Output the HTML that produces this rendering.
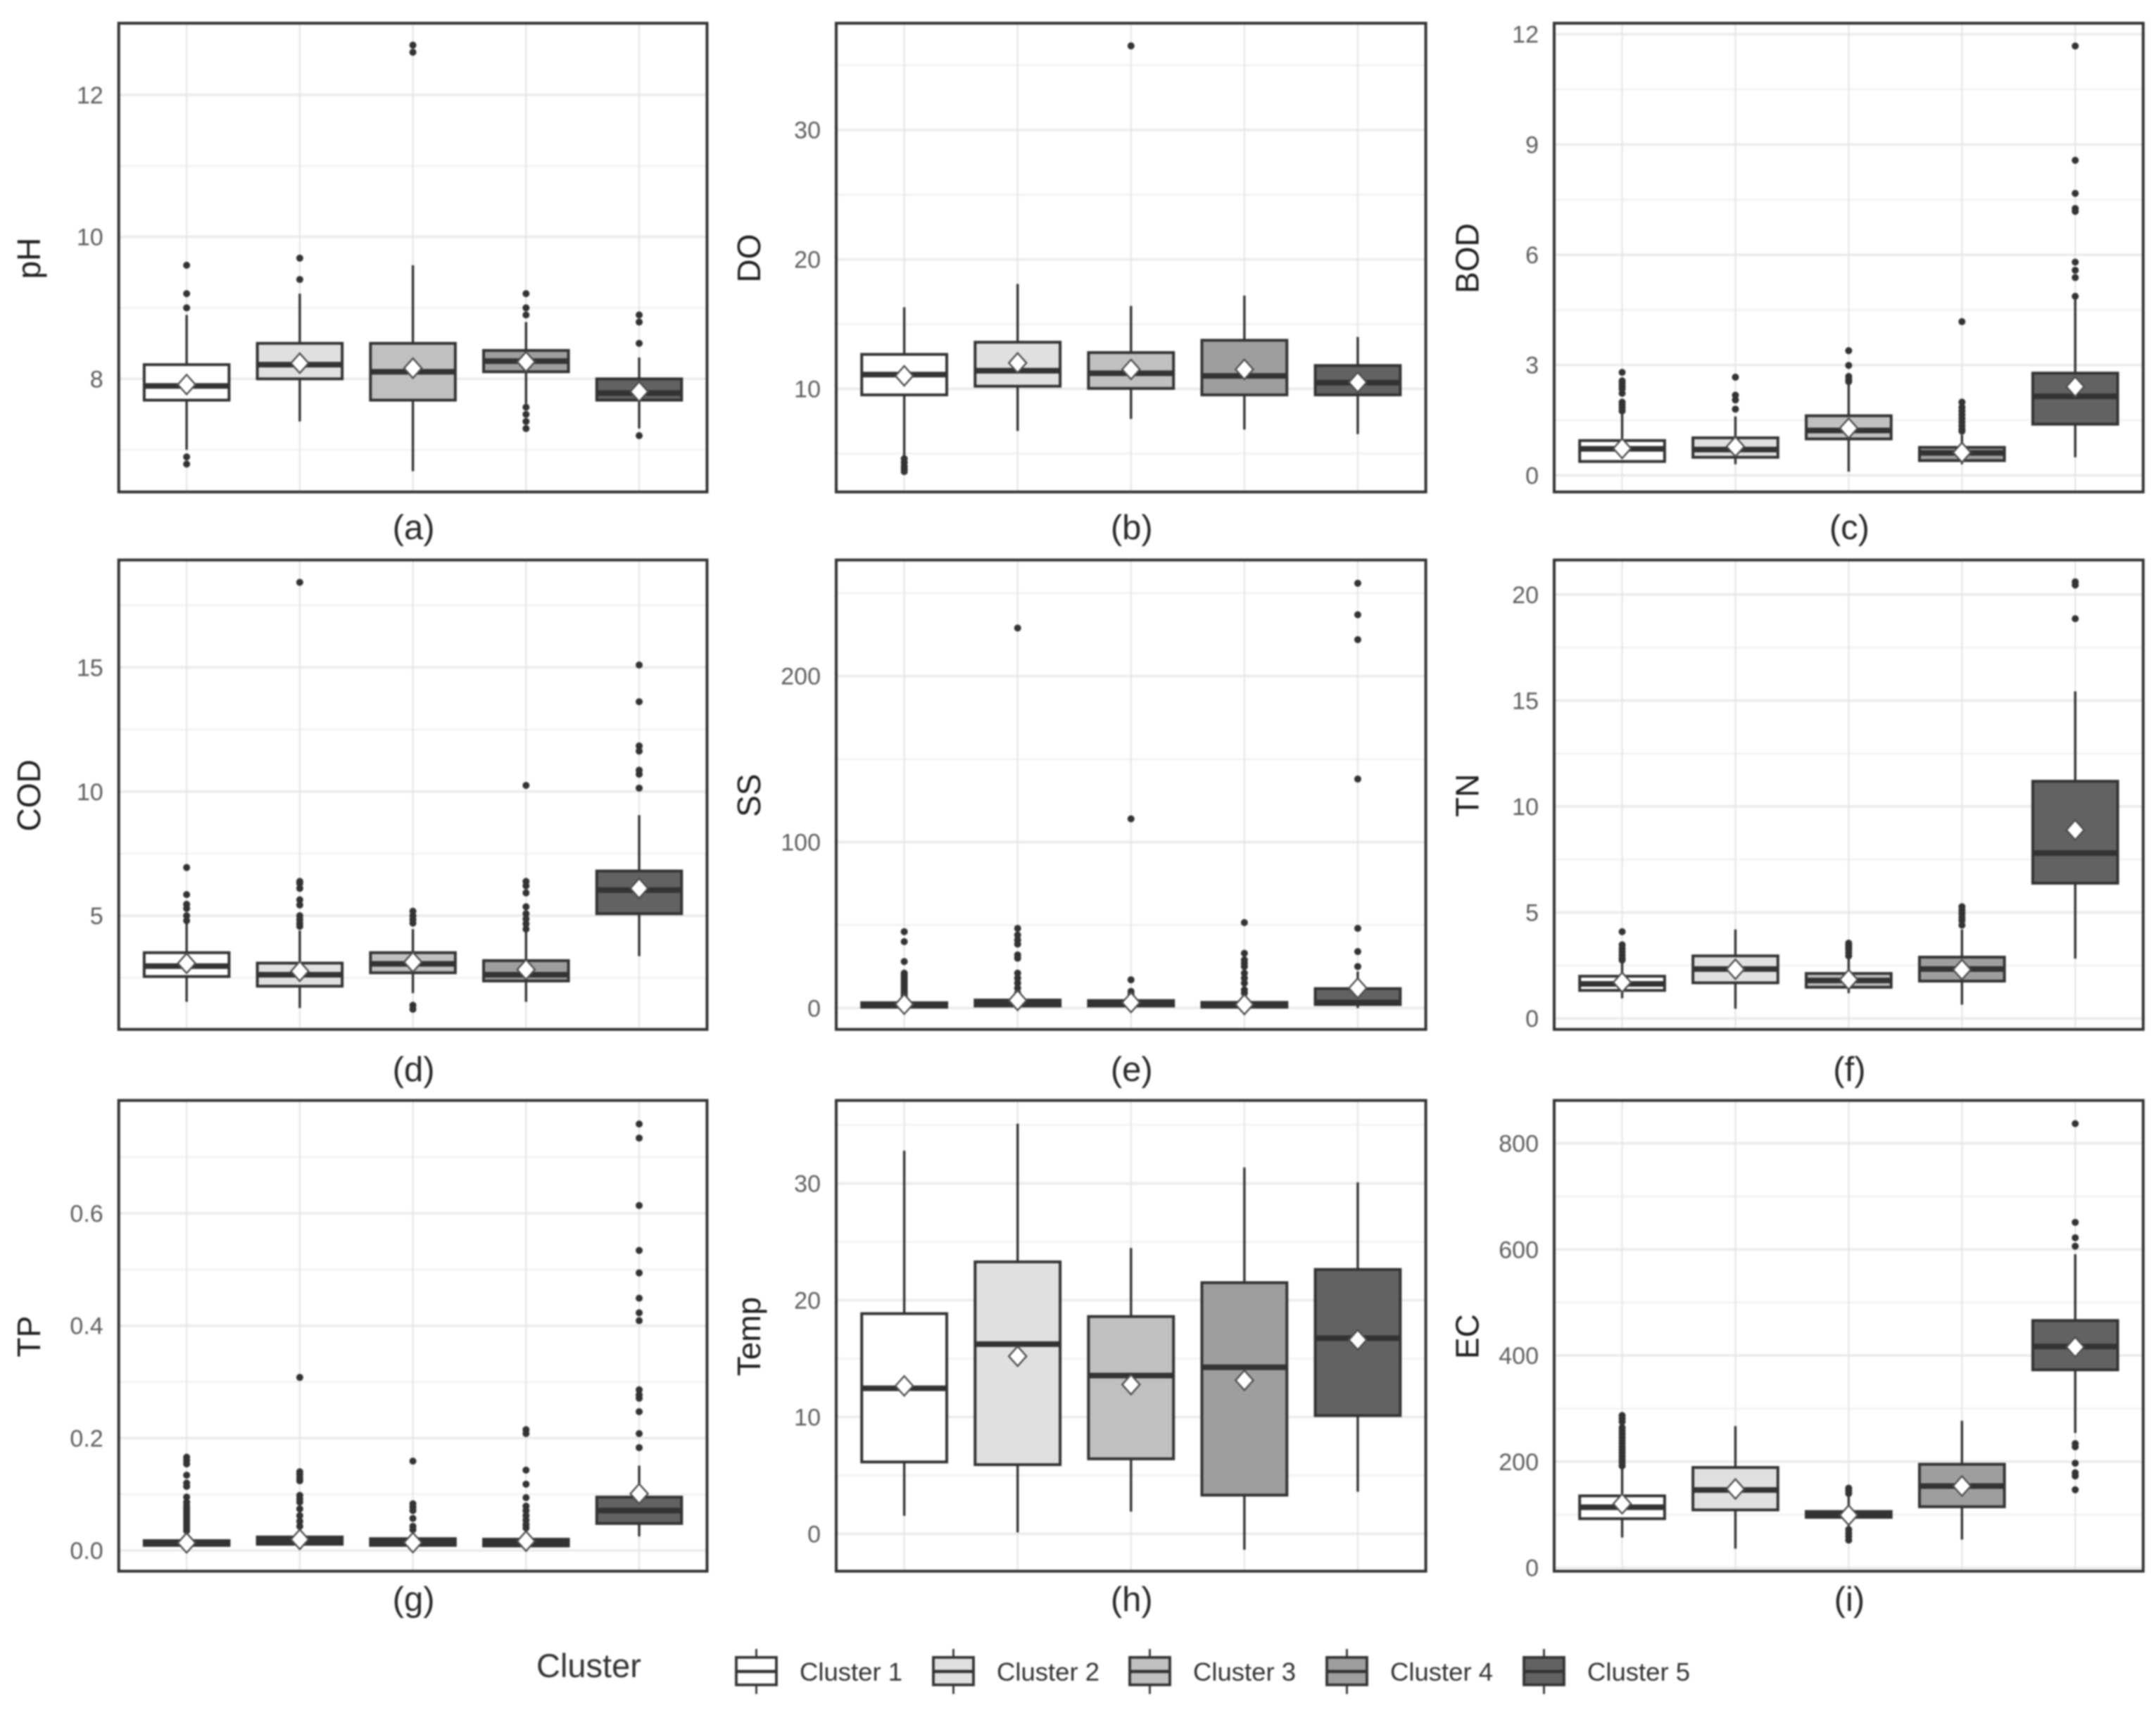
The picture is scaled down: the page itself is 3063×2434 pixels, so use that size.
<!DOCTYPE html>
<html lang="en">
<head>
<meta charset="utf-8">
<title>Water quality parameters by cluster</title>
<style>
html,body{margin:0;padding:0;background:#fff;width:3063px;height:2434px;overflow:hidden}
svg{display:block;filter:blur(1px);font-family:"Liberation Sans",sans-serif}
</style>
</head>
<body>
<svg id="chart" xmlns="http://www.w3.org/2000/svg" width="3063" height="2434" viewBox="0 0 3063 2434"></svg>
<script>
const categories = ['Cluster 1','Cluster 2','Cluster 3','Cluster 4','Cluster 5'];

// (a) pH
const phDomain = [6.407, 13.009];
const phTicks = [8, 10, 12];
const phTickLabels = ['8','10','12'];
const phQ1 = [7.7, 8.0, 7.7, 8.1, 7.7];
const phMedian = [7.9, 8.2, 8.1, 8.25, 7.8];
const phQ3 = [8.2, 8.5, 8.5, 8.4, 8.0];
const phMean = [7.92, 8.22, 8.15, 8.24, 7.82];
const phLow = [7.0, 7.4, 6.7, 7.65, 7.3];
const phHigh = [8.9, 9.2, 9.6, 8.8, 8.3];
const phOutliers = [[9.6,9.2,9.0,6.9,6.8],[9.7,9.4],[12.7,12.6],[9.2,9.0,8.9,7.6,7.5,7.4,7.3],[8.9,8.8,8.5,7.2]];

// (b) DO
const doDomain = [2.03, 38.25];
const doTicks = [10, 20, 30];
const doTickLabels = ['10','20','30'];
const doQ1 = [9.53, 10.2, 10.03, 9.53, 9.53];
const doMedian = [11.1, 11.4, 11.2, 11.0, 10.47];
const doQ3 = [12.66, 13.6, 12.8, 13.75, 11.8];
const doMean = [11.0, 12.0, 11.5, 11.5, 10.5];
const doLow = [4.85, 6.74, 7.67, 6.85, 6.5];
const doHigh = [16.3, 18.1, 16.4, 17.2, 14.0];
const doOutliers = [[4.6,4.3,4.0,3.8,3.6],[],[36.5],[],[]];

// (c) BOD
const bodDomain = [-0.453, 12.3];
const bodTicks = [0, 3, 6, 9, 12];
const bodTickLabels = ['0','3','6','9','12'];
const bodQ1 = [0.376, 0.49, 0.99, 0.40, 1.39];
const bodMedian = [0.72, 0.70, 1.22, 0.61, 2.15];
const bodQ3 = [0.945, 1.02, 1.62, 0.76, 2.78];
const bodMean = [0.73, 0.78, 1.28, 0.62, 2.41];
const bodLow = [0.35, 0.3, 0.1, 0.3, 0.49];
const bodHigh = [1.7, 1.6, 2.5, 1.1, 4.78];
const bodOutliers = [[2.8,2.57,2.5,2.42,2.35,2.23,1.99,1.92,1.84,1.75],[2.67,2.18,2.05,1.8],[3.39,2.99,2.69,2.6,2.55],[4.18,1.99,1.85,1.75,1.65,1.55,1.45,1.35,1.25,1.2],[11.68,8.57,7.67,7.26,7.18,5.8,5.58,5.38,4.87]];

// (d) COD
const codDomain = [0.418, 19.33];
const codTicks = [5, 10, 15];
const codTickLabels = ['5','10','15'];
const codQ1 = [2.55, 2.16, 2.7, 2.37, 5.08];
const codMedian = [2.97, 2.62, 3.06, 2.62, 6.03];
const codQ3 = [3.51, 3.09, 3.51, 3.19, 6.8];
const codMean = [3.08, 2.76, 3.13, 2.83, 6.1];
const codLow = [1.53, 1.28, 1.88, 1.53, 3.37];
const codHigh = [4.67, 4.4, 4.46, 4.4, 9.05];
const codOutliers = [[6.94,5.85,5.46,5.29,5.0,4.8],[18.43,6.38,6.3,6.1,5.64,5.43,5.0,4.85,4.7,4.57],[5.18,5.0,4.85,4.7,1.39,1.23],[10.25,6.38,6.2,5.92,5.36,5.08,4.87,4.67,4.46],[15.1,13.62,11.84,11.63,10.86,10.7,10.14]];

// (e) SS
const ssDomain = [-12.9, 270];
const ssTicks = [0, 100, 200];
const ssTickLabels = ['0','100','200'];
const ssQ1 = [0.5, 1.2, 1.2, 0.5, 2.1];
const ssMedian = [1.9, 2.9, 2.9, 1.9, 3.3];
const ssQ3 = [3.2, 4.8, 4.5, 3.4, 11.7];
const ssMean = [2.3, 4.6, 3.3, 2.1, 12];
const ssLow = [0, 0, 0, 0, 0];
const ssHigh = [6, 8, 7, 8, 22];
const ssOutliers = [[46,40,28,21,20,19,18,17,16,15,14,13,12,11,10,9,8,7],[229,48,44,41,38.5,32,30,21,18,15,12,9],[114,17,10,8.3],[51.5,33,29,27,25,21,18,15,11,9],[256,237,222,138,48,34,25]];

// (f) TN
const tnDomain = [-0.52, 21.63];
const tnTicks = [0, 5, 10, 15, 20];
const tnTickLabels = ['0','5','10','15','20'];
const tnQ1 = [1.32, 1.68, 1.47, 1.76, 6.38];
const tnMedian = [1.63, 2.33, 1.79, 2.33, 7.8];
const tnQ3 = [1.99, 2.95, 2.12, 2.89, 11.19];
const tnMean = [1.70, 2.32, 1.83, 2.3, 8.89];
const tnLow = [0.95, 0.46, 1.19, 0.65, 2.82];
const tnHigh = [2.66, 4.2, 2.8, 4.2, 15.43];
const tnOutliers = [[4.09,3.47,3.3,3.15,3.0,2.85,2.75],[],[3.55,3.45,3.35,3.25,3.1,2.95],[5.27,5.1,4.94,4.78,4.62,4.4],[20.6,20.45,18.86]];

// (g) TP
const tpDomain = [-0.0369, 0.801];
const tpTicks = [0, 0.2, 0.4, 0.6];
const tpTickLabels = ['0.0','0.2','0.4','0.6'];
const tpQ1 = [0.009, 0.011, 0.009, 0.008, 0.048];
const tpMedian = [0.0135, 0.017, 0.015, 0.0135, 0.071];
const tpQ3 = [0.0175, 0.024, 0.021, 0.02, 0.095];
const tpMean = [0.0135, 0.0197, 0.014, 0.0166, 0.101];
const tpLow = [0.003, 0.003, 0.003, 0.002, 0.025];
const tpHigh = [0.03, 0.037, 0.034, 0.043, 0.151];
const tpOutliers = [[0.166,0.16,0.154,0.134,0.12,0.114,0.095,0.086,0.08,0.075,0.07,0.065,0.06,0.055,0.05,0.045,0.04,0.035],[0.308,0.14,0.135,0.129,0.124,0.098,0.092,0.086,0.074,0.062,0.052,0.043],[0.159,0.083,0.077,0.071,0.057,0.043,0.037],[0.215,0.208,0.143,0.118,0.094,0.079,0.071,0.062,0.054,0.046,0.04],[0.759,0.734,0.614,0.534,0.494,0.449,0.423,0.409,0.286,0.277,0.271,0.247,0.208,0.183]];

// (h) Temp
const tempDomain = [-3.2, 37.1];
const tempTicks = [0, 10, 20, 30];
const tempTickLabels = ['0','10','20','30'];
const tempQ1 = [6.15, 5.92, 6.42, 3.31, 10.12];
const tempMedian = [12.46, 16.24, 13.55, 14.26, 16.75];
const tempQ3 = [18.85, 23.28, 18.6, 21.5, 22.63];
const tempMean = [12.66, 15.2, 12.78, 13.14, 16.6];
const tempLow = [1.54, 0.12, 1.9, -1.36, 3.6];
const tempHigh = [32.8, 35.1, 24.47, 31.36, 30.09];
const tempOutliers = [[],[],[],[],[]];

// (i) EC
const ecDomain = [-6.5, 880.8];
const ecTicks = [0, 200, 400, 600, 800];
const ecTickLabels = ['0','200','400','600','800'];
const ecQ1 = [92.5, 109, 95, 115, 373];
const ecMedian = [114, 146.6, 101, 154, 417];
const ecQ3 = [135.5, 189, 106, 195, 466];
const ecMean = [120.5, 148.5, 99, 154, 416];
const ecLow = [57, 36, 75, 53, 254];
const ecHigh = [189, 267, 137, 277, 591];
const ecOutliers = [[287,281,275,264,258,252,246,240,234,228,222,216,210,204,198,192],[],[150,145,140,72,65,59,52],[],[837,651,622,606,234,228,197,179,173,147]];

const fills = ['#ffffff','#e0e0e0','#c0c0c0','#9e9e9e','#626262'];
const lineColor = '#333333';
const colEdges = [[168.7,1004.5],[1188,2025.6],[2208,3044.8]];
const rowEdges = [[33,699],[795.7,1462.7],[1563.6,2232.5]];
const titleX = [57,1080,2100.7];
const tagY = [766,1536,2289];

const panels = [
 {id:'ph',title:'pH',tag:'(a)',r:0,c:0,domain:phDomain,ticks:phTicks,labels:phTickLabels,q1:phQ1,med:phMedian,q3:phQ3,mean:phMean,lo:phLow,hi:phHigh,out:phOutliers},
 {id:'do',title:'DO',tag:'(b)',r:0,c:1,domain:doDomain,ticks:doTicks,labels:doTickLabels,q1:doQ1,med:doMedian,q3:doQ3,mean:doMean,lo:doLow,hi:doHigh,out:doOutliers},
 {id:'bod',title:'BOD',tag:'(c)',r:0,c:2,domain:bodDomain,ticks:bodTicks,labels:bodTickLabels,q1:bodQ1,med:bodMedian,q3:bodQ3,mean:bodMean,lo:bodLow,hi:bodHigh,out:bodOutliers},
 {id:'cod',title:'COD',tag:'(d)',r:1,c:0,domain:codDomain,ticks:codTicks,labels:codTickLabels,q1:codQ1,med:codMedian,q3:codQ3,mean:codMean,lo:codLow,hi:codHigh,out:codOutliers},
 {id:'ss',title:'SS',tag:'(e)',r:1,c:1,domain:ssDomain,ticks:ssTicks,labels:ssTickLabels,q1:ssQ1,med:ssMedian,q3:ssQ3,mean:ssMean,lo:ssLow,hi:ssHigh,out:ssOutliers},
 {id:'tn',title:'TN',tag:'(f)',r:1,c:2,domain:tnDomain,ticks:tnTicks,labels:tnTickLabels,q1:tnQ1,med:tnMedian,q3:tnQ3,mean:tnMean,lo:tnLow,hi:tnHigh,out:tnOutliers},
 {id:'tp',title:'TP',tag:'(g)',r:2,c:0,domain:tpDomain,ticks:tpTicks,labels:tpTickLabels,q1:tpQ1,med:tpMedian,q3:tpQ3,mean:tpMean,lo:tpLow,hi:tpHigh,out:tpOutliers},
 {id:'temp',title:'Temp',tag:'(h)',r:2,c:1,domain:tempDomain,ticks:tempTicks,labels:tempTickLabels,q1:tempQ1,med:tempMedian,q3:tempQ3,mean:tempMean,lo:tempLow,hi:tempHigh,out:tempOutliers},
 {id:'ec',title:'EC',tag:'(i)',r:2,c:2,domain:ecDomain,ticks:ecTicks,labels:ecTickLabels,q1:ecQ1,med:ecMedian,q3:ecQ3,mean:ecMean,lo:ecLow,hi:ecHigh,out:ecOutliers}
];

const NS = 'http://www.w3.org/2000/svg';
const root = document.getElementById('chart');
function make(tag, attrs, parent, text) {
  const n = document.createElementNS(NS, tag);
  for (const k in attrs) n.setAttribute(k, attrs[k]);
  if (text !== undefined) n.textContent = text;
  parent.appendChild(n);
  return n;
}
function gridLine(g, x1, y1, x2, y2, w, color) {
  return make('line', {x1, y1, x2, y2, stroke: color, 'stroke-width': w}, g);
}

panels.forEach(p => {
  const [L, R] = colEdges[p.c];
  const [T, B] = rowEdges[p.r];
  const yScale = v => B - (v - p.domain[0]) / (p.domain[1] - p.domain[0]) * (B - T);
  const band = (R - L) / (categories.length + 0.2);
  const xScale = i => L + band * (0.6 + i);
  const boxW = band * 0.75;

  const g = make('g', {}, root);
  
  

  // background grid
  const step = p.ticks[1] - p.ticks[0];
  const minors = [];
  for (let v = p.ticks[0] - step / 2; v < p.domain[1]; v += step) {
    if (v > p.domain[0]) minors.push(v);
  }
  minors.forEach(v => {
    const m = gridLine(g, L, yScale(v), R, yScale(v), 2.2, '#f0f0f0');
    
    
  });
  p.ticks.forEach((v, i) => {
    const m = gridLine(g, L, yScale(v), R, yScale(v), 3.5, '#ebebeb');
    
    
    const t = make('text', {x: L - 22, y: yScale(v) + 12, 'text-anchor': 'end', 'font-size': 34, fill: '#5e5e5e'}, g, p.labels[i]);
    
    
  });
  categories.forEach((c, i) => {
    const m = gridLine(g, xScale(i), T, xScale(i), B, 2.2, '#e6e6e6');
    
    
  });

  // boxes
  categories.forEach((c, i) => {
    const x = xScale(i);
    const bg = make('g', {}, g);
    
    

    const wh = make('line', {x1: x, x2: x, y1: yScale(p.hi[i]), y2: yScale(p.lo[i]), stroke: lineColor, 'stroke-width': 3.4}, bg);
    
    

    p.out[i].forEach(v => {
      const o = make('circle', {cx: x, cy: yScale(v), r: 5, fill: lineColor}, bg);
      
      
    });

    const bx = make('rect', {x: x - boxW / 2, y: yScale(p.q3[i]), width: boxW, height: yScale(p.q1[i]) - yScale(p.q3[i]), fill: fills[i], stroke: lineColor, 'stroke-width': 4}, bg);
    
    

    const md = make('line', {x1: x - boxW / 2, x2: x + boxW / 2, y1: yScale(p.med[i]), y2: yScale(p.med[i]), stroke: lineColor, 'stroke-width': 8}, bg);
    
    

    const my = yScale(p.mean[i]);
    const d = make('polygon', {points: `${x},${my - 14} ${x + 12.5},${my} ${x},${my + 14} ${x - 12.5},${my}`, fill: '#ffffff', stroke: '#4d4d4d', 'stroke-width': 2.4}, bg);
    
    
  });

  const border = make('rect', {x: L, y: T, width: R - L, height: B - T, fill: 'none', stroke: lineColor, 'stroke-width': 4}, g);
  
  

  const tx = titleX[p.c];
  const ty = (T + B) / 2 + 1;
  const title = make('text', {x: tx, y: ty, transform: `rotate(-90 ${tx} ${ty})`, 'text-anchor': 'middle', 'font-size': 46, fill: '#1f1f1f'}, g, p.title);
  
  

  const tag = make('text', {x: (L + R) / 2 + 1, y: tagY[p.r], 'text-anchor': 'middle', 'font-size': 49, fill: '#2a2a2a'}, g, p.tag);
  
  
});

// legend
const legend = make('g', {}, root);


const legendTitle = make('text', {x: 762, y: 2383, 'font-size': 47, fill: '#333333'}, legend, 'Cluster');


const keyX = [1046, 1326, 1605, 1885, 2165];
categories.forEach((c, i) => {
  const x = keyX[i];
  const cx = x + 28.5;
  const e = make('g', {}, legend);
  
  
  const w = make('line', {x1: cx, x2: cx, y1: 2343, y2: 2407, stroke: lineColor, 'stroke-width': 2.8}, e);
  
  
  const r = make('rect', {x, y: 2355, width: 57, height: 39, fill: fills[i], stroke: lineColor, 'stroke-width': 3.8}, e);
  
  
  const m = make('line', {x1: x, x2: x + 57, y1: 2375, y2: 2375, stroke: lineColor, 'stroke-width': 4.5}, e);
  
  
  const t = make('text', {x: x + 90, y: 2388, 'font-size': 36.5, fill: '#333333'}, e, c);
  
  
});
</script>
</body>
</html>
